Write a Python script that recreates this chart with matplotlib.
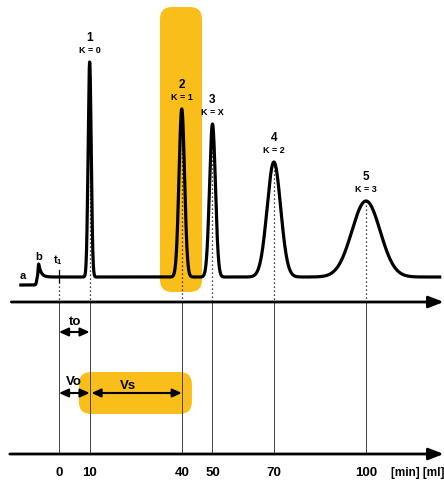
import numpy as np
import matplotlib
matplotlib.use("Agg")
import matplotlib.pyplot as plt
from matplotlib.patches import FancyBboxPatch

plt.rcParams['font.family'] = ['Liberation Sans', 'DejaVu Sans']

# ---- data ----
peak_ids = ["1", "2", "3", "4", "5"]
peak_k = ["K=0", "K=1", "K=X", "K=2", "K=3"]
peak_pos = [10, 40, 50, 70, 100]
peak_height = [215, 168, 153, 115, 76]
peak_sigma = [0.5, 0.9, 0.95, 2.2, 4.6]
spike_b = (-6.6, 13, 0.35)        # position, height, sigma of the small peak b
step_a = (-7.3, 8)                # step position, step size at injection
tick_values = [0, 10, 40, 50, 70, 100]
tick_labels = ["0", "10", "40", "50", "70", "100"]
t0_value = 0
v0_end = 10
vs_end = 40

W, H = 444, 481
fig = plt.figure(figsize=(W / 100, H / 100), dpi=100)
ax = fig.add_axes([0, 0, 1, 1])
xmin, xmax = -19.2, 125.4
ymin, ymax = 278 - H, 278
ax.set_xlim(xmin, xmax)
ax.set_ylim(ymin, ymax)
ax.axis('off')

px_per_x = W / (xmax - xmin)
px_per_y = H / (ymax - ymin)
aspect = px_per_x / px_per_y

yellow = '#F9BE1A'

# highlight boxes
r = 4.0
box1 = FancyBboxPatch((32.9 + r, -15 + r * aspect), (46.6 - 32.9) - 2 * r, 285 - 2 * r * aspect,
                      boxstyle=f"round,pad={r},rounding_size={r}", mutation_aspect=aspect,
                      fc=yellow, ec='none', zorder=0)
ax.add_patch(box1)
box2 = FancyBboxPatch((6.5 + r, -137 + r * aspect), (43.3 - 6.5) - 2 * r, 42 - 2 * r * aspect,
                      boxstyle=f"round,pad={r},rounding_size={r}", mutation_aspect=aspect,
                      fc=yellow, ec='none', zorder=0)
ax.add_patch(box2)

# chromatogram
x = np.linspace(-12.4, 124, 4000)
spike_tail = spike_b[1] * np.exp(-np.clip(x - spike_b[0], 0, None) / 0.8) * (x >= spike_b[0])
spike_front = spike_b[1] * np.exp(-0.5 * ((x - spike_b[0]) / 0.18) ** 2) * (x < spike_b[0])
y = -step_a[1] + step_a[1] / (1 + np.exp(-(x - step_a[0]) / 0.12)) + spike_tail + spike_front
for p, h, s in zip(peak_pos, peak_height, peak_sigma):
    y += h * np.exp(-0.5 * ((x - p) / s) ** 2)
ax.plot(x, y, color='black', lw=2.3, solid_joinstyle='round', zorder=3)

axis1_y, axis2_y = -25, -177

# dotted lines from peak tops to first axis
for p, h in zip(peak_pos, peak_height):
    ax.plot([p, p], [h, axis1_y], color='black', lw=0.9, ls=(0, (1, 2.2)), zorder=4)
# t1 marker
ax.plot([t0_value, t0_value], [7, -5], color='black', lw=0.9, zorder=4)
ax.plot([t0_value, t0_value], [-5, axis1_y], color='black', lw=0.9, ls=(0, (1, 2.2)), zorder=4)

# solid lines between the axes
for v in tick_values:
    ax.plot([v, v], [axis1_y, axis2_y], color='#444444', lw=0.7, zorder=2)

# axes with arrows
for ya, xs in [(axis1_y, -15.5), (axis2_y, -16.0)]:
    ax.annotate('', xy=(125.3, ya), xytext=(xs, ya),
                arrowprops=dict(arrowstyle='-|>,head_length=0.9,head_width=0.35',
                                lw=2.0, color='black', shrinkA=0, shrinkB=0), zorder=5)

# peak labels
for p, h, pid, k in zip(peak_pos, peak_height, peak_ids, peak_k):
    ax.text(p, h + 25, pid, ha='center', va='center', fontsize=8.5, fontweight='bold')
    ax.text(p, h + 12, k.replace('=', ' = '), ha='center', va='center', fontsize=6.5,
            fontweight='bold')

ax.text(-11.8, 2, 'a', ha='center', va='center', fontsize=8, fontweight='bold')
ax.text(-6.5, 21, 'b', ha='center', va='center', fontsize=8, fontweight='bold')
ax.text(-0.4, 18, r'$\mathregular{t_{1}}$', ha='center', va='center', fontsize=8,
        fontweight='bold')

# retention / volume arrows
arrow_kw = dict(arrowstyle='<|-|>,head_length=0.55,head_width=0.25', lw=1.5, color='black',
                shrinkA=0, shrinkB=0)
ax.annotate('', xy=(v0_end, -55), xytext=(t0_value, -55), arrowprops=arrow_kw)
ax.text(5.2, -44, 'to', ha='center', va='center', fontsize=9.5, fontweight='bold')
ax.annotate('', xy=(v0_end, -116), xytext=(t0_value, -116), arrowprops=arrow_kw)
ax.text(5.0, -104, 'Vo', ha='center', va='center', fontsize=9.5, fontweight='bold')
ax.annotate('', xy=(vs_end, -116), xytext=(v0_end + 0.6, -116), arrowprops=arrow_kw)
ax.text(22.5, -108, 'Vs', ha='center', va='center', fontsize=9.5, fontweight='bold')

# tick labels
for v, lab in zip(tick_values, tick_labels):
    ax.text(v, -195, lab, ha='center', va='center', fontsize=9.5, fontweight='bold')
ax.text(108.0, -195, '[min] [ml]', ha='left', va='center', fontsize=8.5, fontweight='bold')

fig.savefig('out.png', dpi=100, facecolor='white')
